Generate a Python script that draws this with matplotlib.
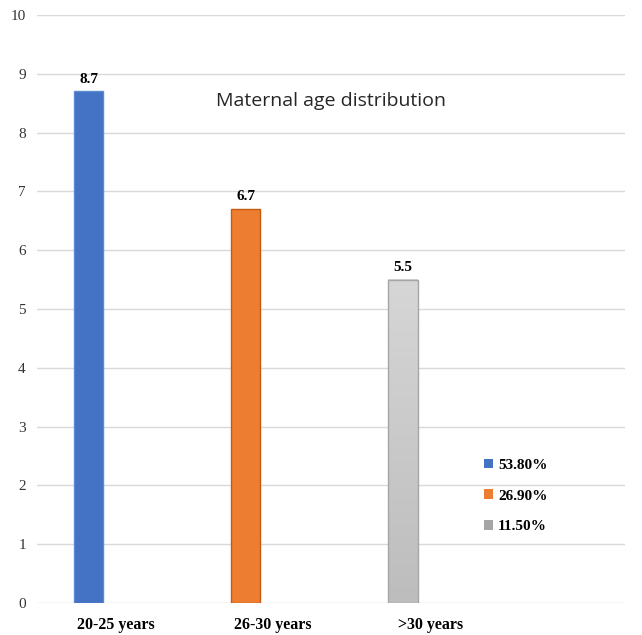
import numpy as np
import matplotlib.pyplot as plt
from matplotlib.patches import Patch
from matplotlib.colors import LinearSegmentedColormap

categories = ['20-25 years', '26-30 years', '>30 years']
values = [8.7, 6.7, 5.5]
legend_labels = ['53.80%', '26.90%', '11.50%']
colors = ['#4472c4', '#ed7d31', '#a5a5a5']
edges = ['#5b8ad6', '#c55a11', '#a6a6a6']

fig = plt.figure(figsize=(6.42, 6.35), dpi=100)
ax = fig.add_axes([0.0576, 0.0504, 0.916, 0.926])

x = np.arange(len(categories))
w = 0.185
off = -0.172
bars = []
for i, v in enumerate(values):
    fc = colors[i] if i < 2 else 'none'
    b = ax.bar(x[i] + off, v, width=w, color=fc, edgecolor=edges[i], linewidth=1, zorder=3)
    bars.append(b)
    ax.bar_label(b, labels=['%.1f' % v], padding=4, fontsize=11, fontweight='bold',
                 family='Liberation Serif', zorder=4)

# gradient fill for the grey bar
rect = bars[2][0]
grad = np.linspace(0, 1, 100).reshape(-1, 1)
cmap = LinearSegmentedColormap.from_list('g', ['#bdbdbd', '#d6d6d6'])
ax.imshow(grad, extent=[rect.get_x(), rect.get_x() + rect.get_width(), 0, rect.get_height()],
          aspect='auto', cmap=cmap, origin='lower', zorder=2.5)

ax.set_xlim(-0.5, 3.24)
ax.set_ylim(0, 10)
ax.set_yticks(range(0, 11))
ax.set_xticks(x)
ax.set_xticklabels(categories, fontsize=11.5, fontweight='bold', family='Liberation Serif')
for t in ax.get_yticklabels():
    t.set_family('Liberation Serif')
    t.set_fontsize(11)
    t.set_color('#333333')
ax.tick_params(length=0, pad=8)
ax.tick_params(axis='x', pad=10)
ax.grid(axis='y', color='#d9d9d9', linewidth=1, zorder=0)
for s in ax.spines.values():
    s.set_visible(False)

ax.text(0.5, 0.854, 'Maternal age distribution', transform=ax.transAxes, ha='center', va='center',
        fontsize=14, family='Open Sans', color='#262626')

handles = [Patch(facecolor=c, edgecolor='none') for c in colors]
ax.legend(handles, legend_labels, loc='lower left', bbox_to_anchor=(0.737, 0.095),
          frameon=False, handlelength=0.6, handleheight=0.6, handletextpad=0.3,
          labelspacing=1.15, prop={'family': 'Liberation Serif', 'weight': 'bold', 'size': 11})

fig.savefig('out.png', dpi=100)
